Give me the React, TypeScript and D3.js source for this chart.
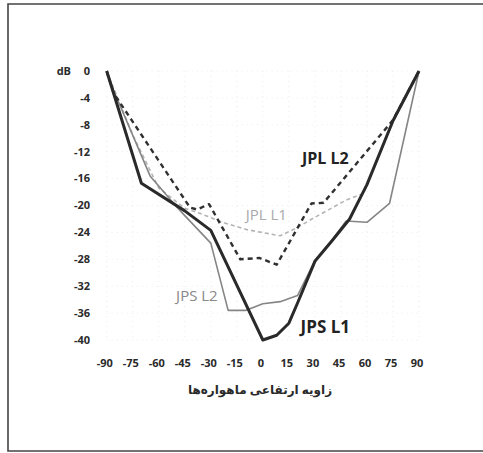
/**
 * elevation angle chart
 */
import React, { Component } from 'react';
import { select, scaleLinear, line, range } from 'd3';

// x ticks / y ticks
const xTicks = range(-90, 91, 15);
const yTicks = range(0, -41, -4);

// JPS L1
const jpsL1Angle = [-90, -70, -45, -30, 0, 8, 15, 20, 30, 40, 50, 60, 75, 90];
const jpsL1Db = [0, -16.7, -20.8, -23.7, -40, -39.3, -37.5, -34.5, -28.3, -25.2, -22, -16.9, -7.4, 0];

// JPS L2
const jpsL2Angle = [-90, -87, -65, -50, -45, -30, -20, -10, 0, 10, 20, 30, 40, 48, 60, 73, 90];
const jpsL2Db = [0, -2.3, -15.6, -20.1, -21.5, -25.6, -35.6, -35.6, -34.6, -34.3, -33.4, -28.2, -25.1, -22.3, -22.5, -19.7, 0];

// JPL L2
const jplL2Angle = [-90, -86, -42, -38, -31, -13, -2, 8, 28, 35, 75, 90];
const jplL2Db = [0, -3.3, -20.3, -20.6, -19.8, -28, -27.8, -28.8, -19.7, -19.6, -7.3, 0];

// JPL L1
const jplL1Angle = [-90, -75, -60, -45, -36, -22, -9, 10, 19, 29, 48, 58, 75, 90];
const jplL1Db = [0, -9.5, -17.4, -20.4, -21.2, -22.6, -23.6, -24.5, -23.4, -21.9, -19.2, -18.2, -7.6, 0];

const series = [
  { name: 'JPL L1', angle: jplL1Angle, db: jplL1Db, color: '#b4b4b4', width: 1.6, dash: '4,3' },
  { name: 'JPS L2', angle: jpsL2Angle, db: jpsL2Db, color: '#858585', width: 1.6, dash: null },
  { name: 'JPL L2', angle: jplL2Angle, db: jplL2Db, color: '#303030', width: 2.4, dash: '5,4' },
  { name: 'JPS L1', angle: jpsL1Angle, db: jpsL1Db, color: '#2a2a2a', width: 3, dash: null },
];

// series labels
const labels = [
  { name: 'JPL L2', a: 36, v: -13.8, color: '#222', size: 16, weight: 'bold' },
  { name: 'JPL L1', a: 2, v: -22.2, color: '#aaa', size: 15, weight: 'normal' },
  { name: 'JPS L2', a: -38, v: -34.2, color: '#888', size: 15, weight: 'normal' },
  { name: 'JPS L1', a: 36, v: -39, color: '#222', size: 17, weight: 'bold' },
];

const title = 'زاویه ارتفاعی ماهواره‌ها';

class App extends Component {
  constructor(props) {
    super(props);
    this.ref = React.createRef();
  }

  render() {
    return (
      <svg ref={this.ref} width={483} height={453}
        style={{ position: 'absolute', left: 0, top: 0, background: '#fff' }} />
    );
  }

  componentDidMount() {
    let me = this;
    let svg = select(me.ref.current);
    svg.selectAll('*').remove();

    let x = scaleLinear().domain([-90, 90]).range([106.7, 419]);
    let y = scaleLinear().domain([-40, 0]).range([340, 71]);

    // frame
    svg.append('path')
      .attr('d', 'M483,4 H8 V451 H483')
      .style('fill', 'none')
      .style('stroke', '#444')
      .style('stroke-width', 1.6);

    // faint grid
    let grid = svg.append('g');
    grid.selectAll('.gx').data(xTicks).enter().append('line')
      .attr('x1', d => x(d)).attr('x2', d => x(d))
      .attr('y1', y(0)).attr('y2', y(-40))
      .style('stroke', '#ececec').style('stroke-dasharray', '1,4');
    grid.selectAll('.gy').data(yTicks).enter().append('line')
      .attr('x1', x(-90)).attr('x2', x(90))
      .attr('y1', d => y(d)).attr('y2', d => y(d))
      .style('stroke', '#ececec').style('stroke-dasharray', '1,4');

    // y tick labels
    svg.append('g').selectAll('text').data(yTicks).enter().append('text')
      .attr('x', 90)
      .attr('y', d => y(d))
      .attr('dy', '0.35em')
      .style('text-anchor', 'end')
      .style('font-family', '"Open Sans", sans-serif')
      .style('font-size', 11)
      .style('font-weight', 'bold')
      .style('fill', '#2a2a2a')
      .text(d => d);
    svg.append('text')
      .attr('x', 71).attr('y', y(0)).attr('dy', '0.35em')
      .style('text-anchor', 'end')
      .style('font-family', '"Open Sans", sans-serif')
      .style('font-size', 11).style('font-weight', 'bold')
      .style('fill', '#2a2a2a')
      .text('dB');

    // x tick labels
    svg.append('g').selectAll('text').data(xTicks).enter().append('text')
      .attr('x', d => x(d) - 2)
      .attr('y', 363)
      .attr('dy', '0.35em')
      .style('text-anchor', 'middle')
      .style('font-family', '"Open Sans", sans-serif')
      .style('font-size', 11)
      .style('font-weight', 'bold')
      .style('fill', '#2a2a2a')
      .text(d => d);

    svg.append('text')
      .attr('x', 260).attr('y', 390).attr('dy', '0.35em')
      .style('text-anchor', 'middle')
      .style('font-family', '"Noto Sans", "DejaVu Sans", sans-serif')
      .style('font-size', 12).style('font-weight', 'bold')
      .style('fill', '#2a2a2a')
      .text(title);

    // lines
    series.forEach(s => {
      let pts = s.angle.map((a, i) => [a, s.db[i]]);
      let path = line().x(d => x(d[0])).y(d => y(d[1]));
      svg.append('path')
        .attr('d', path(pts))
        .style('fill', 'none')
        .style('stroke', s.color)
        .style('stroke-width', s.width)
        .style('stroke-linejoin', 'round')
        .style('stroke-dasharray', s.dash);
    });

    // labels
    svg.append('g').selectAll('text').data(labels).enter().append('text')
      .attr('x', d => x(d.a))
      .attr('y', d => y(d.v))
      .style('text-anchor', 'middle')
      .style('font-family', '"Open Sans", sans-serif')
      .style('font-size', d => d.size)
      .style('font-weight', d => d.weight)
      .style('fill', d => d.color)
      .text(d => d.name);
  }
}

export default App;
